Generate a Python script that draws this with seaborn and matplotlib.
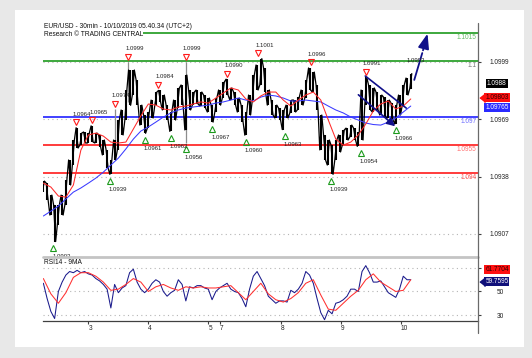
import numpy as np
import pandas as pd
import matplotlib
matplotlib.use("Agg")
import matplotlib.pyplot as plt
import seaborn as sns
from matplotlib.transforms import blended_transform_factory, ScaledTranslation
from matplotlib.lines import Line2D
from matplotlib.patches import Rectangle

sns.set_theme(style="white")
plt.rcParams['font.family'] = ['Liberation Sans', 'DejaVu Sans']

# ---------------- data ----------------
title_1 = "EUR/USD - 30min - 10/10/2019 05.40.34 (UTC+2)"
title_2 = "Research \u00a9 TRADING CENTRAL"

bar_step = 3  # one sample every 3 half-hour bars
price_hi = [1.09354, 1.09344, 1.09279, 1.09226, 1.09226, 1.09279, 1.09360, 1.09467, 1.09574, 1.09640,
            1.09612, 1.09617, 1.09612, 1.09650, 1.09612, 1.09601, 1.09574, 1.09521, 1.09467, 1.09574,
            1.09681, 1.09735, 1.09842, 1.09949, 1.09949, 1.09896, 1.09761, 1.09708, 1.09724, 1.09788,
            1.09831, 1.09840, 1.09815, 1.09761, 1.09724, 1.09788, 1.09853, 1.09869, 1.09922, 1.09842,
            1.09831, 1.09842, 1.09831, 1.09815, 1.09799, 1.09761, 1.09799, 1.09842, 1.09885, 1.09900,
            1.09853, 1.09831, 1.09799, 1.09761, 1.09724, 1.09815, 1.09922, 1.09976, 1.10010, 1.09960,
            1.09842, 1.09788, 1.09761, 1.09745, 1.09735, 1.09761, 1.09788, 1.09788, 1.09804, 1.09842,
            1.09896, 1.09960, 1.09938, 1.09869, 1.09708, 1.09601, 1.09574, 1.09547, 1.09574, 1.09601,
            1.09628, 1.09638, 1.09654, 1.09638, 1.09617, 1.09842, 1.09910, 1.09869, 1.09853, 1.09831,
            1.09815, 1.09804, 1.09788, 1.09772, 1.09761, 1.09815, 1.09869, 1.09906, 1.09930]
price_lo = [1.09296, 1.09253, 1.09172, 1.09030, 1.09119, 1.09172, 1.09226, 1.09333, 1.09440, 1.09531,
            1.09547, 1.09558, 1.09558, 1.09563, 1.09558, 1.09537, 1.09494, 1.09424, 1.09390, 1.09467,
            1.09521, 1.09601, 1.09681, 1.09760, 1.09815, 1.09761, 1.09654, 1.09610, 1.09638, 1.09692,
            1.09761, 1.09777, 1.09735, 1.09681, 1.09620, 1.09681, 1.09745, 1.09761, 1.09628, 1.09735,
            1.09761, 1.09767, 1.09756, 1.09745, 1.09724, 1.09670, 1.09724, 1.09761, 1.09799, 1.09815,
            1.09788, 1.09761, 1.09724, 1.09671, 1.09600, 1.09708, 1.09788, 1.09842, 1.09869, 1.09831,
            1.09761, 1.09708, 1.09692, 1.09681, 1.09630, 1.09692, 1.09719, 1.09724, 1.09735, 1.09761,
            1.09799, 1.09842, 1.09831, 1.09735, 1.09521, 1.09467, 1.09440, 1.09390, 1.09467, 1.09510,
            1.09547, 1.09574, 1.09590, 1.09574, 1.09540, 1.09574, 1.09761, 1.09735, 1.09724, 1.09735,
            1.09708, 1.09697, 1.09692, 1.09681, 1.09660, 1.09708, 1.09761, 1.09815, 1.09850]

wick_bars = [57, 68, 114]
wick_hi = [1.0974, 1.0999, 1.0999]
wick_lo = [1.0955, 1.0978, 1.0956]

ma_step = 6
ma_fast = [1.09343, 1.09322, 1.09274, 1.09268, 1.09333, 1.09520, 1.09601, 1.09611, 1.09595, 1.09563,
           1.09558, 1.09563, 1.09633, 1.09703, 1.09767, 1.09761, 1.09740, 1.09735, 1.09751, 1.09756,
           1.09767, 1.09778, 1.09772, 1.09799, 1.09826, 1.09853, 1.09842, 1.09794, 1.09778, 1.09810,
           1.09831, 1.09831, 1.09788, 1.09756, 1.09788, 1.09815, 1.09831, 1.09788, 1.09681, 1.09579,
           1.09547, 1.09563, 1.09601, 1.09660, 1.09729, 1.09767, 1.09783, 1.09740, 1.09756, 1.09794]
ma_slow = [1.09167, 1.09193, 1.09220, 1.09258, 1.09295, 1.09317, 1.09343, 1.09370, 1.09402, 1.09440,
           1.09477, 1.09526, 1.09579, 1.09622, 1.09644, 1.09670, 1.09697, 1.09719, 1.09735, 1.09745,
           1.09751, 1.09756, 1.09761, 1.09772, 1.09778, 1.09788, 1.09799, 1.09788, 1.09783, 1.09804,
           1.09815, 1.09810, 1.09799, 1.09783, 1.09783, 1.09788, 1.09783, 1.09778, 1.09756, 1.09735,
           1.09719, 1.09697, 1.09681, 1.09665, 1.09657, 1.09654, 1.09670, 1.09692, 1.09724, 1.09756]

rsi14 = [57, 44, 33, 27, 50, 58, 64, 67, 66, 68,
         66, 67, 65, 64, 61, 59, 56, 52, 36, 56,
         49, 53, 55, 66, 69, 58, 52, 49, 52, 57,
         60, 58, 50, 46, 49, 51, 60, 56, 42, 54,
         53, 55, 55, 53, 52, 43, 50, 53, 55, 57,
         52, 50, 49, 44, 37, 52, 63, 67, 61, 55,
         46, 43, 40, 42, 42, 41, 51, 49, 52, 57,
         67, 64, 57, 44, 32, 26, 34, 31, 40, 41,
         43, 46, 52, 52, 50, 67, 72, 66, 58, 58,
         59, 54, 49, 47, 45, 52, 63, 60, 60]
rsi_ma9 = [61, 48, 40, 49, 62, 66, 66, 63, 58, 51,
           52, 56, 61, 58, 50, 54, 56, 53, 51, 54,
           53, 54, 53, 53, 54, 55, 49, 43, 50, 57,
           48, 43, 41, 44, 49, 57, 60, 47, 35, 34,
           40, 46, 51, 60, 65, 58, 54, 50, 51, 60]

levels = [1.1015, 1.1, 1.097, 1.0955, 1.094]
level_labels = ["1.1015", "1.1", "1.097", "1.0955", "1.094"]
level_start = [80, 0, 0, 0, 0]

hi_bars = [26, 39, 57, 68, 92, 114, 147, 172, 214, 258, 293]
hi_vals = [1.0964, 1.0965, 1.0974, 1.0999, 1.0984, 1.0999, 1.0990, 1.1001, 1.0996, 1.0991, 1.0993]
hi_marked = [True] * 10 + [False]
lo_bars = [8, 53, 81, 102, 114, 135, 162, 193, 230, 254, 282]
lo_vals = [1.0903, 1.0939, 1.0961, 1.0962, 1.0956, 1.0967, 1.0960, 1.0963, 1.0939, 1.0954, 1.0966]

channel_upper = ([257.6, 290.4], [1.09917, 1.09745])
channel_lower = ([250.4, 283.2], [1.09826, 1.09638])
target_arrow = ([296.8, 303.2, 308.0], [1.09896, 1.10040, 1.10158])

price_ticks = [1.09992, 1.09685, 1.09378, 1.09071]
price_tick_labels = ["1.0999", "1.0969", "1.0938", "1.0907"]
rsi_ticks = [30, 50, 70]
rsi_tick_labels = ["30", "50", "70"]
day_ticks = [36, 84, 132, 141, 190, 238, 286]
day_labels = ["3", "4", "5", "7", "8", "9", "10"]

last_price = 1.0988
last_ma_fast = 1.09803
last_ma_slow = 1.09765
last_rsi_ma = 61.7704
last_rsi = 59.7595

# ---------------- figure ----------------
W, H = 532, 358
fig = plt.figure(figsize=(W / 100, H / 100), dpi=100)
fig.patch.set_facecolor('#e8e8e8')
fx = lambda px: px / W
fy = lambda py: 1 - py / H
fig.add_artist(Rectangle((fx(15), fy(347)), fx(524) - fx(15), fy(10) - fy(347),
                         transform=fig.transFigure, facecolor='white', edgecolor='none', zorder=0))

ax = fig.add_axes([fx(43), fy(256), fx(478) - fx(43), fy(23) - fy(256)])
rax = fig.add_axes([fx(43), fy(321), fx(478) - fx(43), fy(258) - fy(321)])
for a in (ax, rax):
    a.set_facecolor('none')
    for s in a.spines.values():
        s.set_visible(False)
    a.set_xlim(-0.3, 347.8)
ax.set_ylim(1.089527, 1.102009)
rax.set_ylim(24.9, 78.5)

FS = 4.7
dark = '#222222'
navy = '#10108a'

# gridlines
for t in price_ticks:
    ax.axhline(t, color='#b5b5b5', lw=0.8, ls=(0, (1, 3)), zorder=0.5)
for t in rsi_ticks:
    rax.axhline(t, color='#b5b5b5', lw=0.8, ls=(0, (1, 3)), zorder=0.5)

# levels
lvl_colors = ['#1c9a1c', '#1c9a1c', '#2020ff', '#ff1a1a', '#ff1a1a']
lbl_colors = ['#66bb66', '#777777', '#6f6fff', '#ff6f6f', '#ff4f4f']
trans = blended_transform_factory(ax.transAxes, ax.transData)
for v, lab, st, c, lc in zip(levels, level_labels, level_start, lvl_colors, lbl_colors):
    ax.hlines(v, st, 347.8, color=c, lw=1.2, zorder=2)
    ax.annotate(lab, xy=(1, v), xycoords=trans, xytext=(-1, -3.3), textcoords='offset points',
                ha='right', va='center', fontsize=FS, color=lc, zorder=6)

# price bars: wicks, vertical ranges and a zig-zag through each range
bars = np.arange(len(price_hi)) * bar_step
ax.vlines(wick_bars, wick_lo, wick_hi, color='#8c8c8c', lw=0.9, zorder=3)
ax.vlines(bars, price_lo, price_hi, color='black', lw=1.5, zorder=3)
zz_x, zz_y = [], []
for k, (b, h, l) in enumerate(zip(bars, price_hi, price_lo)):
    pair = [(b - 0.8, l), (b + 0.8, h)] if k % 2 == 0 else [(b - 0.8, h), (b + 0.8, l)]
    for px_, py_ in pair:
        zz_x.append(px_)
        zz_y.append(py_)
ax.plot(zz_x, zz_y, color='black', lw=0.9, zorder=3)

# moving averages
ma_df = pd.DataFrame({'bar': np.arange(len(ma_fast)) * ma_step, 'fast': ma_fast, 'slow': ma_slow})
sns.lineplot(data=ma_df, x='bar', y='slow', ax=ax, color='#3a3aff', lw=0.75, estimator=None, zorder=4)
sns.lineplot(data=ma_df, x='bar', y='fast', ax=ax, color='#ff2a2a', lw=0.75, estimator=None, zorder=4)

# channel and target arrow
ax.plot(*channel_upper, color=navy, lw=1.2, zorder=5)
ax.annotate('', xy=(channel_lower[0][1], channel_lower[1][1]),
            xytext=(channel_lower[0][0], channel_lower[1][0]),
            arrowprops=dict(arrowstyle='-|>,head_length=0.4,head_width=0.2', color=navy, lw=1.2), zorder=5)
ax.plot(target_arrow[0][:2], target_arrow[1][:2], color=navy, lw=1.3, zorder=5)
ax.annotate('', xy=(target_arrow[0][2], target_arrow[1][2]),
            xytext=(target_arrow[0][1], target_arrow[1][1]),
            arrowprops=dict(arrowstyle='-|>,head_length=0.75,head_width=0.28', color=navy, lw=1.3),
            annotation_clip=False, zorder=5)

# pivots
dpi = fig.dpi_scale_trans
for b, v, m in zip(hi_bars, hi_vals, hi_marked):
    if m:
        ax.plot(b, v, marker='v', ms=4.6, mfc='none', mec='#ff1a1a', mew=0.8,
                transform=ax.transData + ScaledTranslation(0, 0.055, dpi), zorder=6)
    ax.text(b, v, f"{v:.4f}", transform=ax.transData + ScaledTranslation(-0.03, 0.135, dpi),
            ha='left', va='center', fontsize=4.3, color=dark, zorder=7)
for b, v in zip(lo_bars, lo_vals):
    ax.plot(b, v, marker='^', ms=4.6, mfc='none', mec='#1c9a1c', mew=0.8,
            transform=ax.transData + ScaledTranslation(0, -0.065, dpi), zorder=6)
    ax.text(b, v, f"{v:.4f}", transform=ax.transData + ScaledTranslation(-0.01, -0.15, dpi),
            ha='left', va='center', fontsize=4.3, color=dark, zorder=7)

# titles
ax.text(0.003, 0.987, title_1, transform=ax.transAxes, ha='left', va='center', fontsize=4.8, color='#111111')
ax.text(0.003, 0.9485, title_2, transform=ax.transAxes, ha='left', va='center', fontsize=4.8, color='#111111')

# right price axis
ax.set_xticks([])
ax.yaxis.tick_right()
ax.set_yticks(price_ticks)
ax.set_yticklabels(price_tick_labels)
ax.tick_params(axis='y', direction='out', length=2.3, width=0.8, color='#404040',
               pad=5.8, labelsize=FS, labelcolor=dark)

# value boxes
def value_box(a, tr, val, text, fc, tc, dy, pointer=False):
    a.annotate(text, xy=(1, val), xycoords=tr, xytext=(13.6, dy), textcoords='offset points',
               ha='center', va='center', fontsize=FS, color=tc, annotation_clip=False, zorder=10,
               bbox=dict(boxstyle='square,pad=0.15', fc=fc, ec='none'))
    if pointer:
        a.plot(1, val, marker=[(-1, 0), (1, 1.6), (1, -1.6)], ms=6.0, color=fc, clip_on=False,
               transform=tr + ScaledTranslation(0.035, dy / 72, dpi), zorder=10)

value_box(ax, trans, last_price, f"{last_price:.4f}", 'black', 'white', -0.6)
value_box(ax, trans, last_ma_fast, f"{last_ma_fast:.5f}", '#ff1010', '#300000', -0.2, pointer=True)
value_box(ax, trans, last_ma_slow, f"{last_ma_slow:.5f}", '#2a2aff', 'white', -2.0)

# RSI panel
rsi_df = pd.DataFrame({'bar': np.arange(len(rsi14)) * bar_step, 'rsi': rsi14})
rma_df = pd.DataFrame({'bar': np.arange(len(rsi_ma9)) * ma_step, 'ma': rsi_ma9})
sns.lineplot(data=rsi_df, x='bar', y='rsi', ax=rax, color='#1a1a8c', lw=0.75, estimator=None, zorder=3)
sns.lineplot(data=rma_df, x='bar', y='ma', ax=rax, color='#ff3030', lw=0.75, estimator=None, zorder=4)
rax.text(0.003, 0.93, "RSI14 - 9MA", transform=rax.transAxes, ha='left', va='center',
         fontsize=4.8, color='#111111')
rax.set_xlabel('')
rax.set_ylabel('')
ax.set_xlabel('')
ax.set_ylabel('')
rax.yaxis.tick_right()
rax.set_yticks(rsi_ticks)
rax.set_yticklabels(rsi_tick_labels)
rax.tick_params(axis='y', direction='out', length=2.3, width=0.8, color='#404040',
                pad=11.5, labelsize=FS, labelcolor=dark)
rax.set_xticks(day_ticks)
rax.set_xticklabels(day_labels)
rax.tick_params(axis='x', direction='out', length=2.5, width=0.8, color='#404040',
                pad=0.3, labelsize=FS, labelcolor=dark, bottom=True)
plt.setp(rax.get_xticklabels(), ha='left')
rax.spines['bottom'].set_visible(True)
rax.spines['bottom'].set_color('#404040')
rax.spines['bottom'].set_linewidth(0.9)

rtrans = blended_transform_factory(rax.transAxes, rax.transData)
value_box(rax, rtrans, last_rsi_ma, f"{last_rsi_ma:.4f}", '#ff1010', '#300000', 6.0)
value_box(rax, rtrans, last_rsi, f"{last_rsi:.4f}", '#10107a', 'white', -1.2, pointer=True)

# separators / right axis line
fig.add_artist(Line2D([fx(43), fx(478)], [fy(257), fy(257)], transform=fig.transFigure,
                      color='#c4c4c4', lw=2.0))
fig.add_artist(Line2D([fx(478), fx(478)], [fy(23), fy(333)], transform=fig.transFigure,
                      color='#6a6a6a', lw=0.9))

fig.savefig("out.png", dpi=100, facecolor=fig.get_facecolor())
